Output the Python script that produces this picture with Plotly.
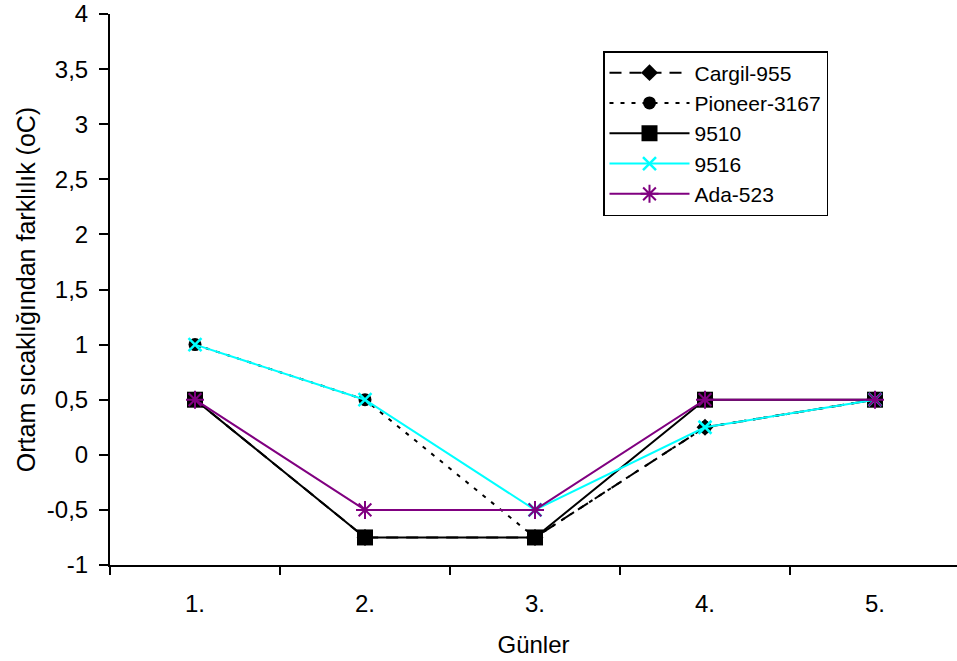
import plotly.graph_objects as go

days = ["1.", "2.", "3.", "4.", "5."]
xpos = [1, 2, 3, 4, 5]
cargil = [0.5, -0.75, -0.75, 0.25, 0.5]
pioneer = [1.0, 0.5, -0.75, 0.25, 0.5]
s9510 = [0.5, -0.75, -0.75, 0.5, 0.5]
s9516 = [1.0, 0.5, -0.5, 0.25, 0.5]
ada = [0.5, -0.5, -0.5, 0.5, 0.5]

ytickvals = [-1, -0.5, 0, 0.5, 1, 1.5, 2, 2.5, 3, 3.5, 4]
yticktext = ["-1", "-0,5", "0", "0,5", "1", "1,5", "2", "2,5", "3", "3,5", "4"]

font = "Liberation Sans, Arial, sans-serif"

fig = go.Figure()
fig.add_trace(go.Scatter(x=xpos, y=cargil, name="Cargil-955", mode="lines+markers",
                         line=dict(color="black", width=2, dash="12px,8px"),
                         marker=dict(symbol="diamond", size=13, color="black")))
fig.add_trace(go.Scatter(x=xpos, y=pioneer, name="Pioneer-3167", mode="lines+markers",
                         line=dict(color="black", width=2, dash="4px,7px"),
                         marker=dict(symbol="circle", size=13, color="black")))
fig.add_trace(go.Scatter(x=xpos, y=s9510, name="9510", mode="lines+markers",
                         line=dict(color="black", width=2),
                         marker=dict(symbol="square", size=16, color="black")))
fig.add_trace(go.Scatter(x=xpos, y=s9516, name="9516", mode="lines+markers",
                         line=dict(color="#00FFFF", width=2),
                         marker=dict(symbol="x-thin-open", size=13, color="#00FFFF",
                                     line=dict(width=2.5, color="#00FFFF"))))
fig.add_trace(go.Scatter(x=xpos, y=ada, name="Ada-523", mode="lines+markers",
                         line=dict(color="#800080", width=2),
                         marker=dict(symbol="asterisk-open", size=15, color="#800080",
                                     line=dict(width=2, color="#800080"))))

fig.update_layout(
    width=957, height=661,
    margin=dict(l=110, r=0, t=14, b=96),
    paper_bgcolor="white", plot_bgcolor="white",
    font=dict(family=font, size=24, color="black"),
    showlegend=True,
    legend=dict(x=(603 - 110) / 847, y=(565 - 51) / 551, xanchor="left", yanchor="top",
                bordercolor="black", borderwidth=1.5, bgcolor="white",
                font=dict(family=font, size=21, color="black"),
                itemwidth=80, tracegroupgap=0),
    xaxis=dict(range=[0.5, 0.5 + 847 / 170], tickvals=xpos, ticktext=days, ticks="",
               showgrid=False, zeroline=False, showline=True, linecolor="black", linewidth=2,
               minor=dict(tickvals=[0.5, 1.5, 2.5, 3.5, 4.5, 5.5], ticks="outside",
                          ticklen=8, tickwidth=2, tickcolor="black", showgrid=False),
               ticklabelstandoff=16,
               title=dict(text="Günler", standoff=20, font=dict(size=24)),
               tickfont=dict(size=24)),
    yaxis=dict(range=[-1, 4], tickvals=ytickvals, ticktext=yticktext, ticks="outside",
               ticklen=9, tickwidth=2, tickcolor="black", ticklabelstandoff=6,
               showgrid=False, zeroline=False, showline=True, linecolor="black", linewidth=2,
               title=dict(text="Ortam sıcaklığından farklılık (oC)", standoff=4, font=dict(size=25)),
               tickfont=dict(size=24)),
)

fig.write_html("out.html")
